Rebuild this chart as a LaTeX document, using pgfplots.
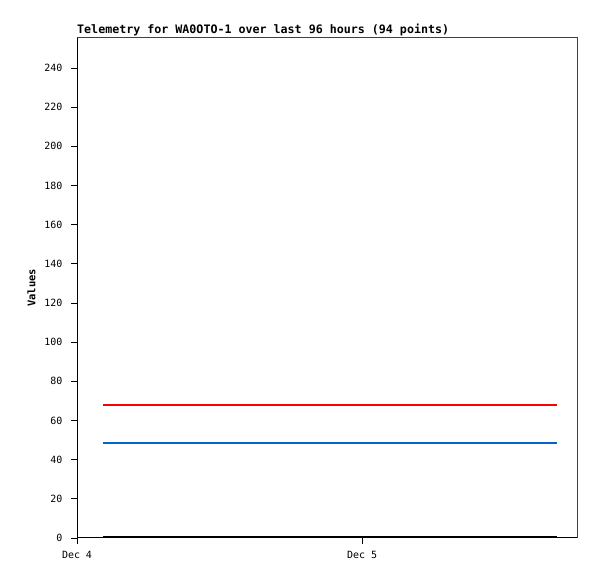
\documentclass[border=0pt]{standalone}
\usepackage{fontspec}
\usepackage{pgfplots}
\pgfplotsset{compat=1.18}
\setmainfont{DejaVu Sans Mono}
\definecolor{redline}{HTML}{FF0000}
\definecolor{blueline}{HTML}{0066CC}
\definecolor{frame}{HTML}{404040}

% x in days since Dec 4 00:00
\pgfplotstableread{
x y
0.091 68
1.684 68
}\redtab
\pgfplotstableread{
x y
0.091 48.5
1.684 48.5
}\bluetab
\pgfplotstableread{
x y
0.091 0.3
1.684 0.3
}\blacktab

\begin{document}
\begin{tikzpicture}[x=1bp,y=1bp]
  \path[use as bounding box] (0,0) rectangle (597,579);
  \begin{axis}[at={(77bp,41bp)}, anchor=south west,
      width=500bp, height=500bp, scale only axis,
      xmin=0, xmax=1.754, ymin=0, ymax=255.3,
      xtick={0,1}, xticklabels={Dec 4,Dec 5},
      ytick={0,20,...,240},
      tick align=outside, major tick length=6bp,
      tick style={black, line width=0.8bp},
      xtick pos=bottom, ytick pos=left,
      axis line style={frame, line width=1bp},
      tick label style={font=\fontsize{10}{11}\selectfont},
      /pgf/number format/assume math mode=true,
      yticklabel style={xshift=-5bp},
      xticklabel style={yshift=-4bp},
      ylabel={\bfseries Values},
      ylabel style={font=\fontsize{10.5}{12}\selectfont, at={(ticklabel cs:0.5)}, yshift=2bp},
      clip=false]
    \addplot[redline, line width=2bp] table[x=x,y=y] {\redtab};
    \addplot[blueline, line width=2bp] table[x=x,y=y] {\bluetab};
    \addplot[black, line width=2bp] table[x=x,y=y] {\blacktab};
    \draw[black, line width=1bp] (rel axis cs:0,1) -- (rel axis cs:0,0) -- (rel axis cs:1,0);
    \node[anchor=base west, inner sep=0pt, font=\fontsize{11.7}{13}\selectfont\bfseries]
      at ([yshift=4bp]rel axis cs:0,1) {Telemetry for WA0OTO-1 over last 96 hours (94 points)};
  \end{axis}
\end{tikzpicture}
\end{document}
